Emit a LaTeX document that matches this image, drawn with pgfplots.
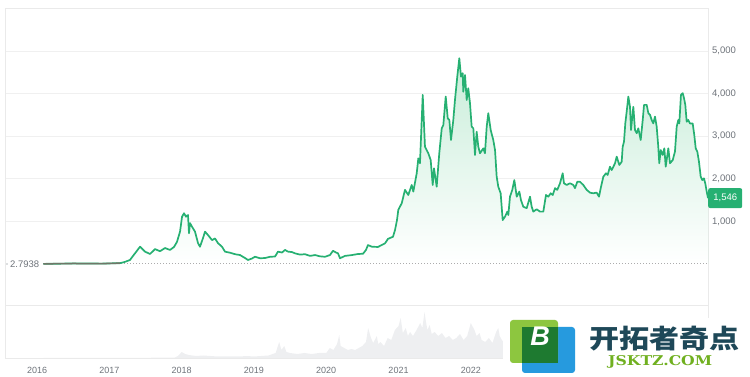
\documentclass[border=0pt]{standalone}
\usepackage{pgfplots}
\usepackage{pgfplotstable}
\pgfplotsset{compat=1.18}
\usepackage{fontspec}
\setmainfont{Liberation Sans}
\newfontfamily\cjk{Noto Sans CJK SC}
\newfontfamily\slab{DejaVu Serif}
\definecolor{ethgreen}{RGB}{38,176,114}
\definecolor{framegray}{RGB}{234,234,234}
\definecolor{gridgray}{RGB}{240,240,240}
\definecolor{labelgray}{RGB}{110,115,122}
\definecolor{volgray}{RGB}{238,239,241}
\definecolor{fillgreen}{RGB}{200,237,217}
\definecolor{flatgray}{RGB}{112,118,104}
\definecolor{logogreen}{RGB}{141,198,63}
\definecolor{logoblue}{RGB}{38,154,222}
\definecolor{logodark}{RGB}{30,122,48}
\definecolor{wmtext}{RGB}{30,72,88}
\definecolor{wmgreen}{RGB}{112,176,32}

\pgfplotstableread{
year price
2016.087 2.79
2016.500 12
2016.900 9
2017.148 20
2017.217 50
2017.286 94
2017.355 250
2017.425 406
2017.494 290
2017.563 235
2017.632 350
2017.701 300
2017.770 375
2017.840 330
2017.895 400
2017.936 520
2017.978 760
2018.006 1110
2018.033 1190
2018.061 1110
2018.088 1150
2018.102 720
2018.116 960
2018.144 875
2018.185 760
2018.227 490
2018.254 405
2018.296 610
2018.324 760
2018.365 680
2018.421 560
2018.462 600
2018.503 490
2018.559 405
2018.600 290
2018.669 265
2018.739 230
2018.808 210
2018.877 140
2018.918 94
2018.974 130
2019.015 170
2019.084 135
2019.154 140
2019.223 170
2019.292 175
2019.333 290
2019.389 270
2019.430 330
2019.472 290
2019.527 280
2019.568 250
2019.638 220
2019.707 230
2019.776 190
2019.845 210
2019.914 180
2019.983 170
2020.052 210
2020.094 310
2020.135 270
2020.163 250
2020.191 135
2020.260 190
2020.357 210
2020.440 235
2020.509 240
2020.550 330
2020.578 445
2020.633 405
2020.716 400
2020.813 485
2020.855 590
2020.882 610
2020.924 640
2020.952 800
2020.979 1030
2020.997 1270
2021.044 1425
2021.090 1740
2021.135 1620
2021.183 1855
2021.205 1700
2021.252 2130
2021.274 2480
2021.297 2365
2021.335 3970
2021.366 2755
2021.412 2600
2021.445 2440
2021.473 1855
2021.491 2245
2021.528 1815
2021.564 2600
2021.598 3185
2021.620 3260
2021.653 3930
2021.681 3420
2021.703 3380
2021.726 2910
2021.758 3380
2021.781 3850
2021.813 4400
2021.841 4830
2021.864 4400
2021.888 4480
2021.896 4045
2021.920 4435
2021.943 3850
2021.965 4125
2021.989 3770
2022.012 3225
2022.035 3185
2022.058 2560
2022.081 3105
2022.104 2755
2022.127 2600
2022.173 2715
2022.196 2600
2022.220 3225
2022.242 3540
2022.275 3145
2022.311 2910
2022.335 2675
2022.358 2050
2022.380 1815
2022.413 1660
2022.427 1345
2022.441 1030
2022.473 1110
2022.505 1230
2022.519 1150
2022.542 1580
2022.574 1740
2022.602 1970
2022.635 1580
2022.671 1700
2022.694 1500
2022.726 1345
2022.773 1310
2022.819 1580
2022.842 1345
2022.865 1230
2022.911 1285
2022.957 1230
2023.003 1230
2023.040 1620
2023.072 1580
2023.105 1660
2023.133 1620
2023.165 1780
2023.196 1740
2023.234 1895
2023.271 2130
2023.289 1895
2023.326 1855
2023.372 1895
2023.418 1855
2023.441 1780
2023.473 1930
2023.510 1930
2023.556 1855
2023.603 1740
2023.649 1675
2023.694 1660
2023.741 1675
2023.773 1580
2023.797 1780
2023.833 2050
2023.870 2130
2023.893 2090
2023.925 2285
2023.949 2205
2023.995 2365
2024.018 2520
2024.054 2325
2024.087 2400
2024.101 2755
2024.119 2870
2024.137 3300
2024.156 3575
2024.179 3930
2024.202 3690
2024.216 3145
2024.234 3460
2024.248 3690
2024.271 3145
2024.295 3070
2024.317 3185
2024.350 2910
2024.378 3380
2024.396 3735
2024.433 3735
2024.456 3540
2024.479 3500
2024.502 3380
2024.524 3300
2024.548 3460
2024.571 3225
2024.593 2755
2024.607 2365
2024.627 2675
2024.654 2560
2024.677 2715
2024.696 2285
2024.732 2715
2024.755 2365
2024.793 2440
2024.824 2640
2024.848 3225
2024.870 3380
2024.884 3300
2024.907 3970
2024.931 4010
2024.949 3895
2024.967 3735
2024.986 3340
2025.008 3380
2025.032 3300
2025.069 3300
2025.091 3030
2025.111 2715
2025.133 2640
2025.156 2400
2025.180 2050
2025.202 1970
2025.225 2010
2025.243 1895
2025.263 1700
2025.281 1546
}\pricedata

\pgfplotstableread{
year vol
2016.087 0
2017.900 0.3
2017.950 2
2018.000 6
2018.050 4
2018.100 3
2018.200 2
2018.300 2.5
2018.500 1.5
2018.800 1.5
2018.900 2
2019.000 1.5
2019.200 2.5
2019.300 5
2019.350 16
2019.380 8
2019.420 12
2019.450 6
2019.500 5
2019.600 4
2019.700 5
2019.800 4
2019.900 5
2020.000 5
2020.050 10
2020.100 8
2020.150 14
2020.180 23
2020.200 12
2020.250 10
2020.300 8
2020.350 9
2020.400 8
2020.450 10
2020.500 12
2020.550 16
2020.580 30
2020.620 20
2020.650 15
2020.700 22
2020.720 14
2020.750 16
2020.800 12
2020.850 20
2020.900 18
2020.950 28
2021.000 32
2021.030 40
2021.060 25
2021.100 30
2021.130 22
2021.160 26
2021.200 22
2021.250 28
2021.300 35
2021.330 30
2021.360 46
2021.380 36
2021.400 28
2021.430 33
2021.460 24
2021.500 26
2021.550 22
2021.600 25
2021.650 20
2021.700 22
2021.750 18
2021.800 20
2021.850 24
2021.900 18
2021.950 22
2022.000 35
2022.050 28
2022.080 22
2022.120 25
2022.150 18
2022.200 16
2022.250 20
2022.300 15
2022.350 26
2022.380 30
2022.400 22
2022.430 18
2022.460 15
}\voldata

\begin{document}
\begin{tikzpicture}
\path[use as bounding box] (0pt,0pt) rectangle (750pt,377pt);
% price panel
\begin{axis}[
  at={(5pt,72pt)}, anchor=south west,
  scale only axis, width=703pt, height=297pt,
  xmin=2015.557, xmax=2025.281,
  ymin=-962.4, ymax=6009.4,
  axis line style={draw=framegray, line width=0.8pt},
  xtick=\empty,
  ytick={1000,2000,3000,4000,5000},
  yticklabels={{1,000},{2,000},{3,000},{4,000},{5,000}},
  yticklabel pos=right,
  yticklabel style={anchor=west, inner sep=0pt, xshift=4pt},
  tick style={draw=none},
  tick label style={font=\fontsize{9.5}{10}\selectfont, text=labelgray},
  ymajorgrids, grid style={draw=gridgray, line width=0.8pt},
  clip mode=individual,
]
\addplot[draw=none, fill=fillgreen, top color=fillgreen, bottom color=white] table[x=year,y=price]{\pricedata} \closedcycle;
\addplot[gray!65, line width=0.8pt, dash pattern=on 0.8pt off 2.2pt] coordinates {(2016.087,2.7938) (2025.281,2.7938)};
\addplot[ethgreen, line width=1.7pt, line join=round] table[x=year,y=price]{\pricedata};
\addplot[flatgray, line width=1.5pt, restrict x to domain=2016:2017.15] table[x=year,y=price]{\pricedata};
\node[anchor=west, inner sep=0pt, text=labelgray, font=\fontsize{9.5}{10}\selectfont, xshift=5pt] at (axis cs:2015.557,2.7938) {2.7938};
\node[anchor=west, fill=ethgreen, text=white, rounded corners=2pt, minimum height=20pt, minimum width=34pt, inner sep=0pt, font=\fontsize{9.5}{10}\selectfont] at (axis cs:2025.281,1546) {1,546};
\end{axis}
% volume panel
\begin{axis}[
  at={(5pt,19pt)}, anchor=south west,
  scale only axis, width=703pt, height=53pt,
  xmin=2015.557, xmax=2025.281,
  ymin=0, ymax=53,
  axis line style={draw=framegray, line width=0.8pt},
  ytick=\empty,
  xtick={2016,2017,2018,2019,2020,2021,2022},
  xticklabels={2016,2017,2018,2019,2020,2021,2022},
  xticklabel style={anchor=base, yshift=-15.4pt},
  tick style={draw=none},
  tick label style={font=\fontsize{9}{10}\selectfont, text=labelgray},
]
\addplot[fill=volgray, draw=none] table[x=year,y=vol]{\voldata} \closedcycle;
\end{axis}
\fill[labelgray] (7pt,113pt) circle (0.6pt);
% watermark
\fill[white] (503pt,0pt) rectangle (750pt,59pt);
\fill[logoblue, rounded corners=3pt] (522pt,4pt) rectangle (575pt,50pt);
\fill[logogreen, rounded corners=3pt] (510pt,14pt) rectangle (558pt,57pt);
\fill[logodark] (522pt,14pt) rectangle (558pt,50pt);
\node[text=white, inner sep=0pt, font=\fontsize{27}{27}\selectfont\bfseries\itshape] at (540pt,41pt) {B};
\node[anchor=west, inner sep=0pt, text=wmtext] at (589pt,38pt) {\resizebox*{150pt}{25pt}{\cjk\bfseries 开拓者奇点}};
\node[anchor=west, inner sep=0pt, text=wmgreen] at (608pt,15pt) {\resizebox{104pt}{10pt}{\slab\bfseries JSKTZ.COM}};
\end{tikzpicture}
\end{document}
